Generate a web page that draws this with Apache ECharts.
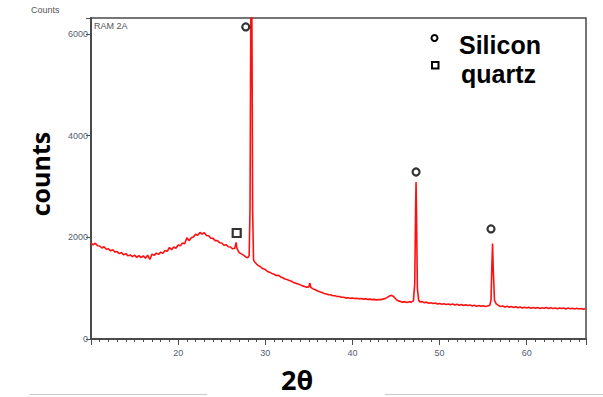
<!DOCTYPE html>
<html>
<head>
<meta charset="utf-8">
<script src="https://cdn.jsdelivr.net/npm/echarts@6/dist/echarts.min.js"></script>
<style>
html,body{margin:0;padding:0;background:#fff;}
#chart{width:603px;height:397px;}
</style>
</head>
<body>
<div id="chart"></div>
<script>
// 2θ (degrees) and counts
const twoTheta = [
 10.00,10.25,10.50,10.75,11.00,11.25,11.50,11.75,12.00,12.25,12.50,12.75,13.00,13.25,13.50,13.75,
 14.00,14.25,14.50,14.75,15.00,15.25,15.50,15.75,16.00,16.25,16.50,16.75,17.00,17.25,17.50,17.75,
 18.00,18.25,18.50,18.75,19.00,19.25,19.50,19.75,20.00,20.25,20.50,20.75,21.00,21.25,21.50,21.75,
 22.00,22.25,22.50,22.75,23.00,23.25,23.50,23.75,24.00,24.25,24.50,24.75,25.00,25.25,25.50,25.75,
 26.00,26.25,26.50,26.65,26.75,27.00,27.25,27.50,27.75,28.00,28.15,28.25,28.35,28.45,28.55,28.65,
 28.75,29.00,29.25,29.50,29.75,30.00,30.25,30.50,30.75,31.00,31.25,31.50,31.75,32.00,32.25,32.50,
 32.75,33.00,33.25,33.50,33.75,34.00,34.25,34.50,34.75,35.00,35.10,35.25,35.50,35.75,36.00,36.25,
 36.50,36.75,37.00,37.25,37.50,37.75,38.00,38.25,38.50,38.75,39.00,39.25,39.50,39.75,40.00,40.25,
 40.50,40.75,41.00,41.25,41.50,41.75,42.00,42.25,42.50,42.75,43.00,43.25,43.50,43.75,44.00,44.25,
 44.50,44.75,45.00,45.25,45.50,45.75,46.00,46.25,46.50,46.75,47.00,47.15,47.25,47.30,47.35,47.45,
 47.60,47.75,48.00,48.25,48.50,48.75,49.00,49.25,49.50,49.75,50.00,50.25,50.50,50.75,51.00,51.25,
 51.50,51.75,52.00,52.25,52.50,52.75,53.00,53.25,53.50,53.75,54.00,54.25,54.50,54.75,55.00,55.25,
 55.50,55.75,55.90,56.00,56.08,56.15,56.30,56.50,56.75,57.00,57.25,57.50,57.75,58.00,58.25,58.50,
 58.75,59.00,59.25,59.50,59.75,60.00,60.25,60.50,60.75,61.00,61.25,61.50,61.75,62.00,62.25,62.50,
 62.75,63.00,63.25,63.50,63.75,64.00,64.25,64.50,64.75,65.00,65.25,65.50,65.75,66.00,66.25,66.50,
 66.75
];
const counts = [
 1890,1850,1885,1835,1830,1790,1815,1765,1775,1735,1755,1710,1720,1680,1700,1655,
 1680,1635,1655,1620,1650,1605,1640,1600,1635,1590,1650,1565,1670,1645,1690,1665,
 1710,1685,1740,1725,1800,1755,1810,1785,1850,1835,1890,1875,1990,1935,1990,2005,
 2060,2040,2095,2065,2090,2035,2030,1985,1980,1935,1935,1895,1890,1845,1855,1815,
 1810,1775,1785,1900,1785,1700,1675,1650,1615,1600,1640,2600,6900,6900,2500,1560,
 1520,1475,1440,1415,1380,1365,1330,1315,1290,1275,1250,1255,1220,1205,1180,1170,
 1150,1135,1110,1095,1080,1065,1045,1035,1020,1025,1100,1010,985,970,945,930,
 915,895,885,870,870,850,850,835,835,820,820,805,810,800,805,795,
 800,790,795,785,790,780,785,775,780,770,775,775,785,795,820,845,
 860,830,780,750,740,725,735,720,735,725,750,1100,2600,3090,2500,1000,
 760,730,735,715,725,705,715,700,710,690,700,685,695,680,690,675,
 690,670,685,665,680,660,675,660,670,650,665,645,660,645,655,640,
 650,660,760,1450,1880,1400,760,690,660,640,650,630,645,625,640,620,
 635,615,630,610,625,610,625,605,620,605,620,600,615,605,620,600,
 615,600,610,595,612,598,610,592,608,595,605,590,603,590,600,585,
 598
];
// peak marker positions [2θ, counts]
const siliconMarks = [[27.76, 6140], [47.30, 3285], [55.90, 2165]];
const quartzMarks = [[26.72, 2085]];
const legendNames = ['Silicon', 'quartz'];
const xTickLabels = [20, 30, 40, 50, 60];
const yTickLabels = [0, 2000, 4000, 6000];

const pattern = twoTheta.map((t, i) => [t, counts[i]]);
const chart = echarts.init(document.getElementById('chart'), null, {renderer: 'svg'});
const axisGray = '#4a4a4a';
const bigFont = 'Open Sans, Lato, sans-serif';
const legendFont = 'Liberation Sans, Arial, sans-serif';
const smallFont = 'Liberation Sans Narrow, Liberation Sans, sans-serif';
chart.setOption({
  animation: false,
  backgroundColor: '#fff',
  grid: {left: 91, top: 18, width: 495, height: 321, show: true, borderColor: axisGray, borderWidth: 1.5, backgroundColor: 'transparent'},
  xAxis: {
    type: 'value', min: 10, max: 66.8, interval: 10,
    axisLine: {show: true, lineStyle: {color: axisGray, width: 2}},
    axisTick: {show: true, inside: false, length: 6, lineStyle: {color: axisGray, width: 1}},
    minorTick: {show: true, splitNumber: 10, length: 3, lineStyle: {color: axisGray, width: 1}},
    splitLine: {show: false},
    axisLabel: {
      margin: 9, fontSize: 9, color: '#56606e', fontFamily: smallFont,
      showMinLabel: false, showMaxLabel: false,
      formatter: v => xTickLabels.includes(Math.round(v)) && Math.abs(v - Math.round(v)) < 1e-6 ? String(Math.round(v)) : ''
    }
  },
  yAxis: {
    type: 'value', min: 0, max: 6315, interval: 2000,
    axisLine: {show: true, lineStyle: {color: axisGray, width: 2}},
    axisTick: {show: true, inside: false, length: 5, lineStyle: {color: axisGray, width: 1}},
    splitLine: {show: false},
    axisLabel: {
      margin: 3, fontSize: 9, color: '#56606e', fontFamily: smallFont,
      formatter: v => yTickLabels.includes(v) ? String(v) : ''
    }
  },
  series: [
    {
      name: 'pattern', type: 'line', data: pattern, showSymbol: false, symbol: 'none',
      lineStyle: {color: '#ff1010', width: 1.6}, clip: true, z: 2
    },
    {
      name: legendNames[0], type: 'scatter', data: siliconMarks, symbol: 'circle', symbolSize: 7,
      itemStyle: {color: '#fff', borderColor: '#000', borderWidth: 2.2}, z: 5
    },
    {
      name: legendNames[1], type: 'scatter', data: quartzMarks, symbol: 'rect', symbolSize: 8,
      itemStyle: {color: '#fff', borderColor: '#000', borderWidth: 2.2}, z: 5
    }
  ],
  graphic: [
    {type: 'text', left: 31, top: 5, style: {text: 'Counts', fontSize: 9, fill: '#555', fontFamily: smallFont}},
    {type: 'text', left: 94, top: 21, style: {text: 'RAM 2A', fontSize: 9, fill: '#555', fontFamily: smallFont}},
    {type: 'text', x: 40, y: 174, rotation: Math.PI / 2, style: {text: 'counts', fontSize: 25, fontWeight: 'bold', fill: '#000', fontFamily: bigFont, align: 'center', verticalAlign: 'middle'}},
    {type: 'text', x: 297, y: 379, style: {text: '2θ', fontSize: 27, fontWeight: 'bold', fill: '#000', fontFamily: bigFont, align: 'center', verticalAlign: 'middle'}},
    {type: 'circle', shape: {cx: 434.5, cy: 38, r: 3}, style: {fill: '#fff', stroke: '#000', lineWidth: 2}},
    {type: 'text', x: 459, y: 44.5, style: {text: legendNames[0], fontSize: 25, lineHeight: 25, fontWeight: 'bold', fill: '#000', fontFamily: legendFont, align: 'left', verticalAlign: 'middle'}},
    {type: 'rect', shape: {x: 432, y: 62, width: 6.5, height: 6.5}, style: {fill: '#fff', stroke: '#000', lineWidth: 2}},
    {type: 'text', x: 461, y: 74, style: {text: legendNames[1], fontSize: 25, lineHeight: 25, fontWeight: 'bold', fill: '#000', fontFamily: legendFont, align: 'left', verticalAlign: 'middle'}},
    {type: 'line', shape: {x1: 30, y1: 394.5, x2: 207, y2: 394.5}, style: {stroke: '#c8c8c8', lineWidth: 1}},
    {type: 'line', shape: {x1: 385, y1: 394.5, x2: 603, y2: 394.5}, style: {stroke: '#c8c8c8', lineWidth: 1}}
  ]
});
</script>
</body>
</html>
